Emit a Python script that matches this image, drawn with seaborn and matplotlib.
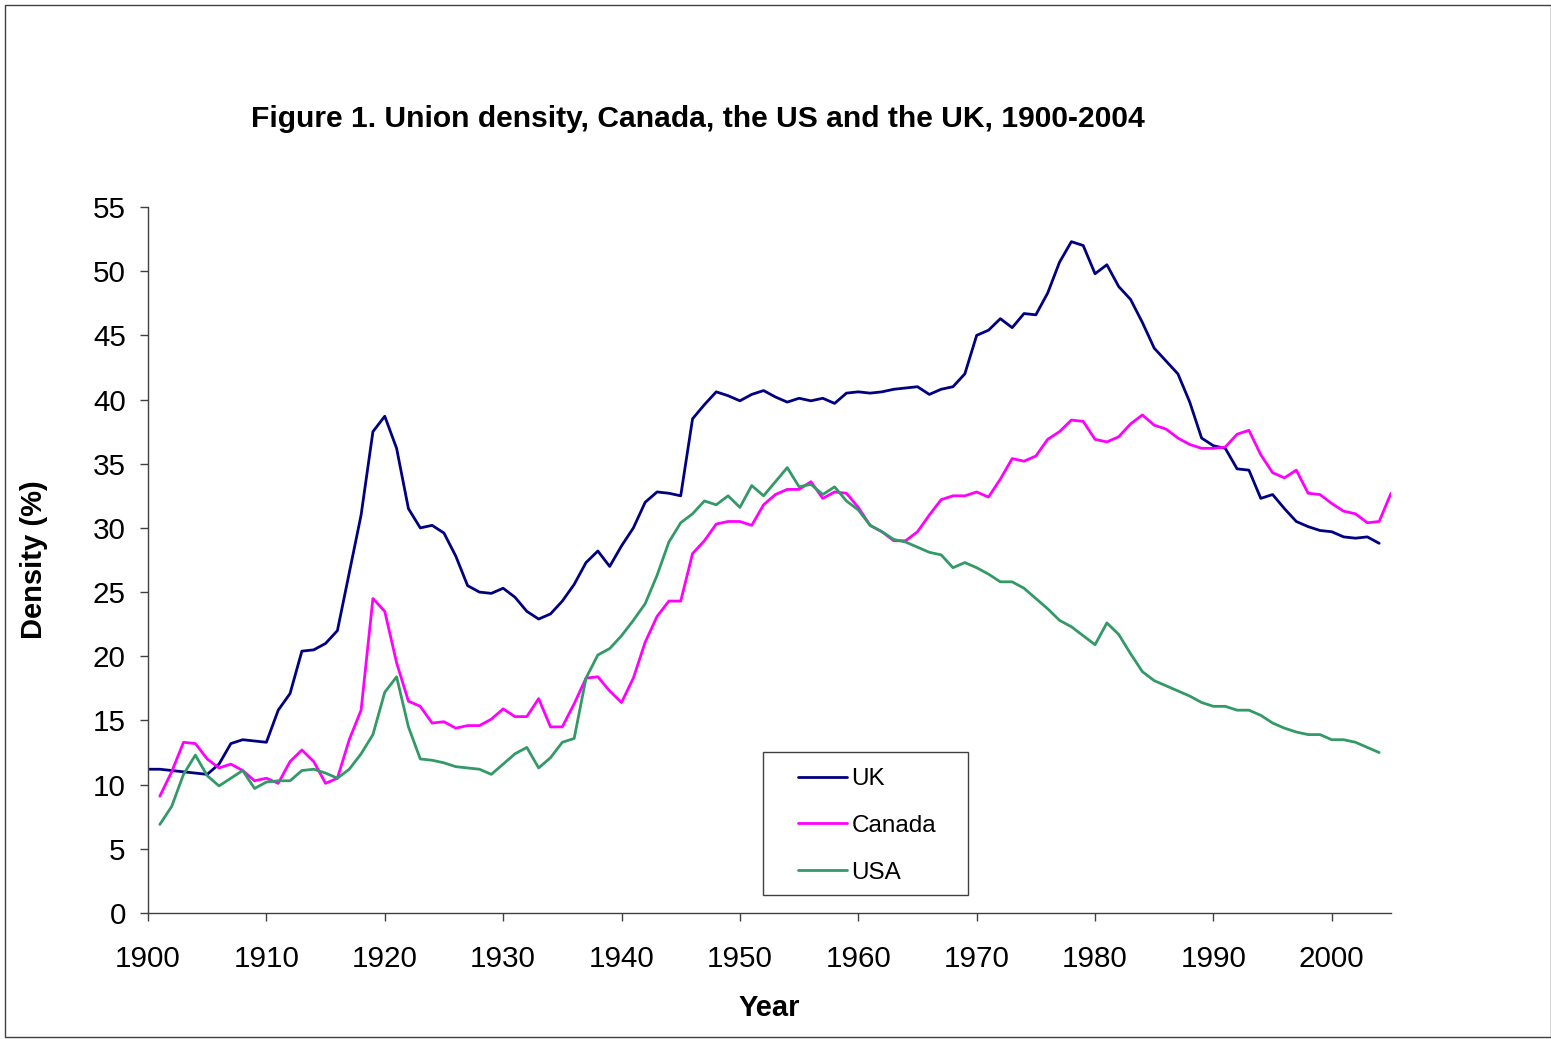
import pandas as pd
import seaborn as sns
import matplotlib.pyplot as plt
from matplotlib.patches import Rectangle
from matplotlib.lines import Line2D

sns.set_theme(style="white")
plt.rcParams["font.family"] = ["Liberation Sans", "DejaVu Sans"]
plt.rcParams["text.color"] = "black"
plt.rcParams["axes.labelcolor"] = "black"
plt.rcParams["xtick.color"] = "black"
plt.rcParams["ytick.color"] = "black"

# Union density (%)
uk_years = list(range(1900, 2005))
uk = [11.2, 11.2, 11.1, 11.0, 10.9, 10.8, 11.6, 13.2, 13.5, 13.4,
      13.3, 15.8, 17.1, 20.4, 20.5, 21.0, 22.0, 26.5, 31.0, 37.5,
      38.7, 36.2, 31.5, 30.0, 30.2, 29.6, 27.8, 25.5, 25.0, 24.9,
      25.3, 24.6, 23.5, 22.9, 23.3, 24.3, 25.6, 27.3, 28.2, 27.0,
      28.6, 30.0, 32.0, 32.8, 32.7, 32.5, 38.5, 39.6, 40.6, 40.3,
      39.9, 40.4, 40.7, 40.2, 39.8, 40.1, 39.9, 40.1, 39.7, 40.5,
      40.6, 40.5, 40.6, 40.8, 40.9, 41.0, 40.4, 40.8, 41.0, 42.0,
      45.0, 45.4, 46.3, 45.6, 46.7, 46.6, 48.3, 50.7, 52.3, 52.0,
      49.8, 50.5, 48.8, 47.8, 46.0, 44.0, 43.0, 42.0, 39.8, 37.0,
      36.4, 36.2, 34.6, 34.5, 32.3, 32.6, 31.5, 30.5, 30.1, 29.8,
      29.7, 29.3, 29.2, 29.3, 28.8]

canada_years = list(range(1901, 2006))
canada = [9.1, 11.0, 13.3, 13.2, 12.0, 11.3, 11.6, 11.1, 10.3,
          10.5, 10.1, 11.8, 12.7, 11.8, 10.1, 10.5, 13.5, 15.8, 24.5,
          23.5, 19.5, 16.5, 16.1, 14.8, 14.9, 14.4, 14.6, 14.6, 15.1,
          15.9, 15.3, 15.3, 16.7, 14.5, 14.5, 16.3, 18.3, 18.4, 17.3,
          16.4, 18.3, 21.1, 23.1, 24.3, 24.3, 28.0, 29.0, 30.3, 30.5,
          30.5, 30.2, 31.8, 32.6, 33.0, 33.0, 33.6, 32.3, 32.8, 32.7,
          31.6, 30.2, 29.7, 29.0, 29.0, 29.7, 31.0, 32.2, 32.5, 32.5,
          32.8, 32.4, 33.8, 35.4, 35.2, 35.6, 36.9, 37.5, 38.4, 38.3,
          36.9, 36.7, 37.1, 38.1, 38.8, 38.0, 37.7, 37.0, 36.5, 36.2,
          36.2, 36.3, 37.3, 37.6, 35.7, 34.3, 33.9, 34.5, 32.7, 32.6,
          31.9, 31.3, 31.1, 30.4, 30.5, 32.7]

usa_years = list(range(1901, 2005))
usa = [6.9, 8.3, 10.8, 12.3, 10.7, 9.9, 10.5, 11.1, 9.7,
       10.2, 10.3, 10.3, 11.1, 11.2, 10.9, 10.5, 11.2, 12.4, 13.9,
       17.2, 18.4, 14.5, 12.0, 11.9, 11.7, 11.4, 11.3, 11.2, 10.8,
       11.6, 12.4, 12.9, 11.3, 12.1, 13.3, 13.6, 18.3, 20.1, 20.6,
       21.6, 22.8, 24.1, 26.3, 28.9, 30.4, 31.1, 32.1, 31.8, 32.5,
       31.6, 33.3, 32.5, 33.6, 34.7, 33.2, 33.4, 32.6, 33.2, 32.1,
       31.4, 30.2, 29.7, 29.1, 28.9, 28.5, 28.1, 27.9, 26.9, 27.3,
       26.9, 26.4, 25.8, 25.8, 25.3, 24.5, 23.7, 22.8, 22.3, 21.6,
       20.9, 22.6, 21.7, 20.2, 18.8, 18.1, 17.7, 17.3, 16.9, 16.4,
       16.1, 16.1, 15.8, 15.8, 15.4, 14.8, 14.4, 14.1, 13.9, 13.9,
       13.5, 13.5, 13.3, 12.9, 12.5]

countries = ["UK", "Canada", "USA"]
colors = {"UK": "#000080", "Canada": "#FF00FF", "USA": "#339966"}

df = pd.concat([
    pd.DataFrame({"Year": uk_years, "Density": uk, "Country": "UK"}),
    pd.DataFrame({"Year": canada_years, "Density": canada, "Country": "Canada"}),
    pd.DataFrame({"Year": usa_years, "Density": usa, "Country": "USA"}),
])

W, H = 1551, 1039
fig = plt.figure(figsize=(W / 100, H / 100), dpi=100)
ax = fig.add_axes([148 / W, 1 - 913 / H, (1391 - 148) / W, (913 - 207) / H])

sns.lineplot(data=df, x="Year", y="Density", hue="Country", hue_order=countries,
             palette=colors, linewidth=2.0, legend=False, ax=ax)

ax.set_xlim(1900, 2005)
ax.set_ylim(0, 55)
ax.set_xticks(range(1900, 2001, 10))
ax.set_yticks(range(0, 56, 5))
ax.tick_params(axis="both", labelsize=21.3, length=6, width=1, color="#404040",
               direction="out")
ax.tick_params(axis="x", bottom=True, pad=17)
ax.tick_params(axis="y", left=True, pad=10)
for side in ["top", "right"]:
    ax.spines[side].set_visible(False)
for side in ["left", "bottom"]:
    ax.spines[side].set_color("#404040")
    ax.spines[side].set_linewidth(1)

ax.set_xlabel("Year", fontsize=21, fontweight="bold", labelpad=15)
ax.set_ylabel("Density (%)", fontsize=21, fontweight="bold", labelpad=32)

fig.text(698 / W, 1 - 119 / H, "Figure 1. Union density, Canada, the US and the UK, 1900-2004",
         ha="center", va="center", fontsize=21.6, fontweight="bold")

# legend box
x0, y0 = (763 - 148) / 1243, (913 - 895) / 706
bw, bh = 205 / 1243, 143 / 706
ax.add_patch(Rectangle((x0, y0), bw, bh, transform=ax.transAxes, facecolor="white",
                       edgecolor="#404040", linewidth=1, clip_on=False, zorder=5))
handles = [Line2D([], [], color=colors[c], linewidth=2.0) for c in countries]
leg = ax.legend(handles, countries, loc="upper left",
                bbox_to_anchor=((798 - 148) / 1243, (913 - 768) / 706),
                frameon=False, fontsize=17.5, handlelength=2.0, handletextpad=0.2,
                labelspacing=1.02, borderpad=0, borderaxespad=0)
leg.set_zorder(6)

fig.patches.append(Rectangle((5 / W, 1 - 1037 / H), 1 - 5 / W, (1037 - 5) / H,
                             transform=fig.transFigure, fill=False,
                             edgecolor="#404040", linewidth=1))

fig.savefig("out.png", dpi=100)
